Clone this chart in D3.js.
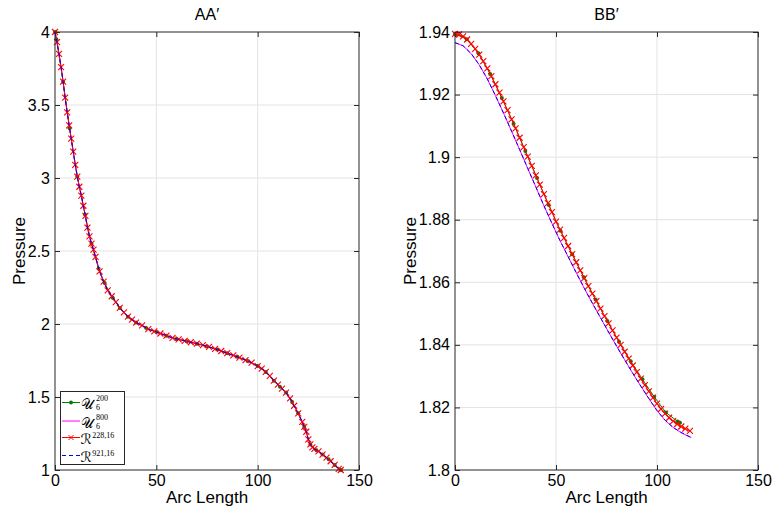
<!DOCTYPE html>
<html><head><meta charset="utf-8">
<script src="https://cdn.jsdelivr.net/npm/d3@7/dist/d3.min.js"></script>
<style>
body{margin:0;background:#fff;}
svg{display:block;font-family:"Liberation Sans",Arial,Helvetica,sans-serif;}
</style></head>
<body>
<svg id="chart" width="774" height="512"></svg>
<script>
// ---------- DATA ----------
const titles = ["AA\u2032", "BB\u2032"];
const xTicks = [0, 50, 100, 150];
const leftYTicks = [1, 1.5, 2, 2.5, 3, 3.5, 4];
const rightYTicks = [1.8, 1.82, 1.84, 1.86, 1.88, 1.9, 1.92, 1.94];

// AA' : dense samples (R^{228,16}, U_6^{800}, R^{921,16} coincide)
const leftArc = [0,1,2,3,4,5,6,7,8,9,10,11,12,13,14,15,16,17,18,19,20,22,24,26,28,30,32,34,36,38,40,43,46,49,52,55,58,61,64,67,70,73,76,79,82,85,88,91,94,97,100,102,104,106,108,110,112,114,116,118,120,122,123,124,125,126,127,128,130,132,134,136,138,140,141];
const leftPressure = [4.00,3.93,3.85,3.76,3.66,3.55,3.45,3.36,3.27,3.18,3.09,3.01,2.94,2.88,2.81,2.74,2.66,2.60,2.55,2.51,2.46,2.36,2.29,2.23,2.19,2.15,2.11,2.08,2.05,2.03,2.01,1.99,1.965,1.95,1.935,1.92,1.905,1.895,1.885,1.875,1.865,1.855,1.843,1.83,1.815,1.80,1.785,1.77,1.753,1.735,1.712,1.695,1.672,1.645,1.612,1.585,1.557,1.53,1.49,1.44,1.388,1.33,1.295,1.262,1.21,1.175,1.155,1.145,1.128,1.106,1.085,1.06,1.035,1.008,1.0];
// AA' : U_6^{200}
const leftArcU200 = [0,0.7,4,7.2,11,14.8,18,21.5,24.5,28.5,32,36,40,45,50,55,60,65,70,75,80,85,90,95,100,104,108,111,114,117,120,123,126,129,132,135,138,141];
const leftPressureU200 = [4.00,3.95,3.66,3.34,3.01,2.75,2.55,2.38,2.28,2.18,2.11,2.05,2.01,1.973,1.945,1.92,1.898,1.882,1.865,1.847,1.825,1.80,1.775,1.747,1.712,1.672,1.612,1.571,1.53,1.465,1.388,1.295,1.175,1.136,1.106,1.073,1.035,1.0];

// BB' : R^{228,16}
const rightArcR228 = [0,2,4,6,8,10,12,14,16,18,20,22,24,26,28,30,32,34,36,38,40,42,44,46,48,50,52,54,56,58,60,62,64,66,68,70,72,74,76,78,80,82,84,86,88,90,92,94,96,98,100,102,104,106,108,110,112,114,116.3];
const rightPressureR228 = [1.9394,1.9392,1.9386,1.9376,1.9362,1.9346,1.9328,1.9307,1.9284,1.9259,1.9233,1.9206,1.9178,1.9150,1.9121,1.9092,1.9062,1.9032,1.9002,1.8972,1.8942,1.8912,1.8882,1.8853,1.8824,1.8794,1.8768,1.8742,1.8716,1.8690,1.8664,1.8638,1.8613,1.8588,1.8564,1.8540,1.8516,1.8492,1.8469,1.8446,1.8423,1.8400,1.8378,1.8356,1.8334,1.8313,1.8292,1.8271,1.8251,1.8231,1.8212,1.8195,1.8180,1.8167,1.8156,1.8147,1.8139,1.8132,1.8125];
// BB' : U_6^{200}
const rightArcU200 = [0,5.8,11.6,17.4,23.2,29,34.8,40.6,46.4,52.2,58,63.8,69.6,75.4,81.2,87,92.8,98.6,104.4,110.2,111.4];
const rightPressureU200 = [1.9394,1.9377,1.9332,1.9266,1.9189,1.9107,1.9020,1.8933,1.8847,1.8765,1.8690,1.8616,1.8545,1.8476,1.8410,1.8348,1.8290,1.8234,1.8184,1.8155,1.8151];
// BB' : U_6^{800} and R^{921,16}
const rightArcFine = [0,4,8,12,16,20,24,28,32,36,40,44,48,52,56,60,64,68,72,76,80,84,88,92,96,100,104,108,112,116,117];
const rightPressureU800 = [1.9366,1.9356,1.9331,1.9295,1.9250,1.9197,1.9141,1.9083,1.9024,1.8964,1.8905,1.8845,1.8788,1.8733,1.8682,1.8631,1.8581,1.8533,1.8487,1.8441,1.8396,1.8352,1.8309,1.8268,1.8228,1.8190,1.8159,1.8136,1.8119,1.8106,1.8104];
const rightPressureR921 = [1.9366,1.9356,1.9331,1.9295,1.9250,1.9197,1.9141,1.9083,1.9024,1.8964,1.8905,1.8845,1.8788,1.8733,1.8682,1.8631,1.8581,1.8533,1.8487,1.8441,1.8396,1.8352,1.8309,1.8268,1.8228,1.8190,1.8159,1.8136,1.8120,1.8107,1.8106];

// ---------- DRAW ----------
const svg = d3.select("#chart");
const zipS = (a, b) => a.map((v, i) => [v, b[i]]);

const panels = [
  { title: titles[0], x0: 55, x1: 359, yDom: [1, 4], yTicks: leftYTicks, fmt: d => d3.format("~g")(d), labelOff: 30,
    series: [
      { key: "u200", pts: zipS(leftArcU200, leftPressureU200) },
      { key: "u800", pts: zipS(leftArc, leftPressure) },
      { key: "r228", pts: zipS(leftArc, leftPressure) },
      { key: "r921", pts: zipS(leftArc, leftPressure) }
    ], legend: true },
  { title: titles[1], x0: 455, x1: 758, yDom: [1.8, 1.94], yTicks: rightYTicks, fmt: d => String(+d.toFixed(2)), labelOff: 39,
    series: [
      { key: "u200", pts: zipS(rightArcU200, rightPressureU200) },
      { key: "u800", pts: zipS(rightArcFine, rightPressureU800) },
      { key: "r228", pts: zipS(rightArcR228, rightPressureR228) },
      { key: "r921", pts: zipS(rightArcFine, rightPressureR921) }
    ], legend: false }
];

const style = {
  u200: { color: "#008000", dash: null, marker: "dot" },
  u800: { color: "#ff00ff", dash: null, marker: null },
  r228: { color: "#ff0000", dash: null, marker: "x" },
  r921: { color: "#0000ff", dash: "4,3", marker: null }
};

const yTop = 32, yBottom = 470;
const axisColor = "#262626";

panels.forEach(p => {
  const x = d3.scaleLinear().domain([0, 150]).range([p.x0, p.x1]);
  const y = d3.scaleLinear().domain(p.yDom).range([yBottom, yTop]);
  const g = svg.append("g");

  // grid
  g.append("g").selectAll("line").data(xTicks.slice(1, -1)).join("line")
    .attr("x1", d => x(d)).attr("x2", d => x(d)).attr("y1", yTop).attr("y2", yBottom)
    .attr("stroke", "#e3e3e3").attr("stroke-width", 1);
  g.append("g").selectAll("line").data(p.yTicks.slice(1, -1)).join("line")
    .attr("y1", d => y(d)).attr("y2", d => y(d)).attr("x1", p.x0).attr("x2", p.x1)
    .attr("stroke", "#e3e3e3").attr("stroke-width", 1);

  // axes
  const ax = (gen, tr) => {
    const a = g.append("g").attr("transform", tr).call(gen);
    a.select(".domain").remove();
    a.selectAll("line").attr("stroke", axisColor);
    a.selectAll("text").attr("fill", "#000").style("font-size", "16px")
      .style("font-family", "'Liberation Sans', Arial, sans-serif");
    return a;
  };
  ax(d3.axisBottom(x).tickValues(xTicks).tickSizeInner(-5).tickSizeOuter(0).tickPadding(5), `translate(0,${yBottom})`);
  ax(d3.axisTop(x).tickValues(xTicks).tickSizeInner(-5).tickSizeOuter(0).tickFormat(""), `translate(0,${yTop})`);
  ax(d3.axisLeft(y).tickValues(p.yTicks).tickSizeInner(-5).tickSizeOuter(0).tickPadding(5).tickFormat(p.fmt), `translate(${p.x0},0)`);
  ax(d3.axisRight(y).tickValues(p.yTicks).tickSizeInner(-5).tickSizeOuter(0).tickFormat(""), `translate(${p.x1},0)`);

  // series
  const line = d3.line().x(d => x(d[0])).y(d => y(d[1]));
  const sg = g.append("g");
  p.series.forEach(s => {
    const st = style[s.key];
    sg.append("path").datum(s.pts).attr("d", line)
      .attr("fill", "none").attr("stroke", st.color).attr("stroke-width", 1)
      .attr("stroke-dasharray", st.dash);
    if (st.marker === "dot") {
      sg.append("g").selectAll("circle").data(s.pts).join("circle")
        .attr("cx", d => x(d[0])).attr("cy", d => y(d[1])).attr("r", 2)
        .attr("fill", st.color);
    } else if (st.marker === "x") {
      sg.append("g").selectAll("path").data(s.pts).join("path")
        .attr("d", d => { const cx = x(d[0]), cy = y(d[1]), r = 3;
          return `M${cx-r},${cy-r}L${cx+r},${cy+r}M${cx-r},${cy+r}L${cx+r},${cy-r}`; })
        .attr("stroke", st.color).attr("stroke-width", 1.1).attr("fill", "none");
    }
  });

  // box
  g.append("rect").attr("x", p.x0).attr("y", yTop).attr("width", p.x1 - p.x0).attr("height", yBottom - yTop)
    .attr("fill", "none").attr("stroke", axisColor).attr("stroke-width", 1);

  // titles & labels
  const cx = (p.x0 + p.x1) / 2;
  g.append("text").attr("x", cx).attr("y", 20).attr("text-anchor", "middle")
    .style("font-size", "16px").text(p.title);
  g.append("text").attr("x", cx).attr("y", 503).attr("text-anchor", "middle")
    .style("font-size", "17px").text("Arc Length");
  g.append("text").attr("transform", `translate(${p.x0 - p.labelOff},${(yTop + yBottom) / 2}) rotate(-90)`)
    .attr("text-anchor", "middle").style("font-size", "17px").text("Pressure");

  if (p.legend) {
    const lg = g.append("g");
    lg.append("rect").attr("x", 60.5).attr("y", 391.5).attr("width", 64).attr("height", 73)
      .attr("fill", "#fff").attr("stroke", axisColor).attr("stroke-width", 1);
    const entries = [
      { key: "u200", main: "\uD835\uDCB0", sup: "200", sub: "6", y: 402.5 },
      { key: "u800", main: "\uD835\uDCB0", sup: "800", sub: "6", y: 421 },
      { key: "r228", main: "\u211B", sup: "228,16", sub: null, y: 437.5 },
      { key: "r921", main: "\u211B", sup: "921,16", sub: null, y: 455.5 }
    ];
    entries.forEach(e => {
      const st = style[e.key];
      lg.append("line").attr("x1", 62).attr("x2", 80).attr("y1", e.y).attr("y2", e.y)
        .attr("stroke", st.color).attr("stroke-width", 1).attr("stroke-dasharray", st.dash);
      if (st.marker === "dot") lg.append("circle").attr("cx", 71).attr("cy", e.y).attr("r", 2).attr("fill", st.color);
      if (st.marker === "x") lg.append("path")
        .attr("d", `M68.5,${e.y-2.5}L73.5,${e.y+2.5}M68.5,${e.y+2.5}L73.5,${e.y-2.5}`)
        .attr("stroke", st.color).attr("stroke-width", 1);
      const mt = lg.append("text").attr("x", 80.5).attr("y", e.y + 6.5).style("font-size", "14px")
        .style("font-family", "'DejaVu Sans', 'DejaVu Serif', serif").text(e.main);
      const bb = mt.node().getBBox();
      const sx = bb.x + bb.width + 0.5;
      lg.append("text").attr("x", sx).attr("y", e.sub ? e.y - 1.5 : e.y + 0.5)
        .style("font-size", "8px").style("font-family", "'Liberation Serif', serif").text(e.sup);
      if (e.sub) lg.append("text").attr("x", sx).attr("y", e.y + 7.8)
        .style("font-size", "8px").style("font-family", "'Liberation Serif', serif").text(e.sub);
    });
  }
});
</script>
</body></html>
